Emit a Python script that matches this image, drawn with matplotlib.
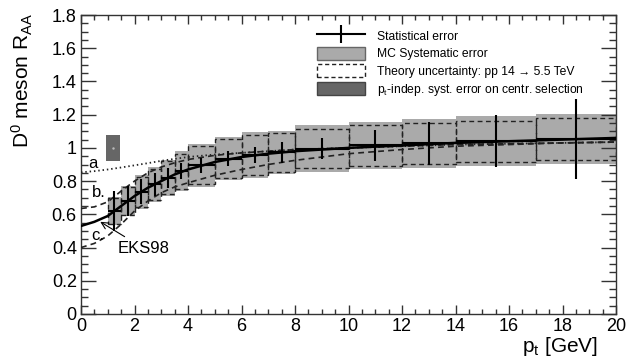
import matplotlib
matplotlib.use("Agg")
import matplotlib.pyplot as plt
from matplotlib.lines import Line2D
from matplotlib.patches import Patch
from matplotlib.ticker import MultipleLocator
import numpy as np

plt.rcParams['font.family'] = ['Liberation Sans', 'DejaVu Sans']
plt.rcParams['mathtext.fontset'] = 'custom'
plt.rcParams['mathtext.rm'] = 'Liberation Sans'
plt.rcParams['mathtext.it'] = 'Liberation Sans'

# ---- data ----
pt_lo = [1.0, 1.5, 2.0, 2.5, 3.0, 3.5, 4.0, 5.0, 6.0, 7.0, 8.0, 10.0, 12.0, 14.0, 17.0]
pt_hi = [1.5, 2.0, 2.5, 3.0, 3.5, 4.0, 5.0, 6.0, 7.0, 8.0, 10.0, 12.0, 14.0, 17.0, 20.0]
raa = [0.62, 0.68, 0.735, 0.78, 0.82, 0.86, 0.895, 0.935, 0.957, 0.974, 0.996, 1.015, 1.027, 1.04, 1.055]
stat_err = [0.12, 0.092, 0.075, 0.07, 0.06, 0.048, 0.045, 0.045, 0.05, 0.063, 0.065, 0.093, 0.13, 0.157, 0.24]
mc_syst = [0.085, 0.09, 0.10, 0.105, 0.11, 0.12, 0.128, 0.13, 0.137, 0.13, 0.14, 0.142, 0.147, 0.15, 0.15]
theo_unc = [0.08, 0.085, 0.09, 0.095, 0.10, 0.105, 0.115, 0.117, 0.12, 0.117, 0.118, 0.122, 0.122, 0.124, 0.125]

curve_pt = [0, 0.5, 1, 1.5, 2, 2.5, 3, 3.5, 4, 5, 6, 7, 8, 10, 12, 14, 16, 18, 20]
eks98 = [0.53, 0.555, 0.59, 0.65, 0.71, 0.76, 0.80, 0.84, 0.87, 0.915, 0.945, 0.965, 0.98, 1.0, 1.015, 1.03, 1.04, 1.05, 1.06]
curve_a = [0.853, 0.86, 0.87, 0.882, 0.895, 0.908, 0.922, 0.934, 0.945, 0.96, 0.97, 0.98, 0.99, 1.0, 1.01, 1.02, 1.025, 1.03, 1.035]
curve_b = [0.635, 0.645, 0.675, 0.74, 0.80, 0.85, 0.885, 0.91, 0.93, 0.955, 0.97, 0.98, 0.99, 1.0, 1.01, 1.02, 1.025, 1.03, 1.035]
curve_c = [0.40, 0.425, 0.47, 0.54, 0.62, 0.68, 0.73, 0.765, 0.79, 0.835, 0.87, 0.90, 0.925, 0.965, 0.99, 1.01, 1.02, 1.03, 1.035]

cent_x = 1.2
cent_w = 0.5
cent_val = 1.0
cent_err = 0.08

legend_labels = ["Statistical error", "MC Systematic error",
                 "Theory uncertainty: pp 14 \u2192 5.5 TeV",
                 "p$_{t}$-indep. syst. error on centr. selection"]

# ---- figure ----
fig = plt.figure(figsize=(6.28, 3.6), dpi=100)
ax = fig.add_axes([81/628, 1-314/360, 535/628, 299/360])

lo = np.array(pt_lo); hi = np.array(pt_hi)
ctr = 0.5*(lo+hi); wid = hi-lo
y = np.array(raa)
sy = np.array(mc_syst); ty = np.array(theo_unc)

ax.bar(ctr, 2*sy, bottom=y-sy, width=wid, color='#aaaaaa', edgecolor='none', zorder=1)
ax.bar(ctr, 2*ty, bottom=y-ty, width=wid, fill=False, edgecolor='#222222',
       linestyle=(0, (3.5, 2.5)), linewidth=1.0, zorder=2)

ax.plot(curve_pt, curve_a, color='#222222', lw=1.3, linestyle=(0, (0.8, 1.6)), zorder=3)
ax.plot(curve_pt, curve_b, color='#222222', lw=1.2, linestyle=(0, (3.5, 2.5)), zorder=3)
ax.plot(curve_pt, curve_c, color='#222222', lw=1.2, linestyle=(0, (3.5, 2.5)), zorder=3)
ax.plot(curve_pt, eks98, color='black', lw=1.8, zorder=4)

ax.errorbar(ctr, y, xerr=wid/2, yerr=stat_err, fmt='none', ecolor='black',
            elinewidth=1.5, capsize=0, zorder=5)

ax.bar([cent_x], [2*cent_err], bottom=[cent_val-cent_err], width=cent_w,
       color='#666666', edgecolor='none', zorder=6)
ax.plot([cent_x], [cent_val], marker='.', ms=1.5, color='#bbbbbb', zorder=7)

# annotations
ax.text(0.28, 0.905, 'a', fontsize=12, va='center', ha='left')
ax.text(0.4, 0.73, 'b.', fontsize=12, va='center', ha='left')
ax.text(0.4, 0.475, 'c.', fontsize=12, va='center', ha='left')
ax.annotate('EKS98', xy=(0.72, 0.555), xytext=(1.38, 0.395), fontsize=12,
            va='center', ha='left',
            arrowprops=dict(arrowstyle='->', color='black', lw=0.8,
                            shrinkA=2, shrinkB=0))

ax.set_xlim(0, 20)
ax.set_ylim(0, 1.8)
ax.xaxis.set_major_locator(MultipleLocator(2))
ax.xaxis.set_minor_locator(MultipleLocator(0.5))
ax.yaxis.set_major_locator(MultipleLocator(0.2))
ax.yaxis.set_minor_locator(MultipleLocator(0.05))
ax.xaxis.set_major_formatter(matplotlib.ticker.FuncFormatter(lambda v, p: f"{v:g}"))
ax.yaxis.set_major_formatter(matplotlib.ticker.FuncFormatter(lambda v, p: f"{v:g}"))
ax.tick_params(axis='x', which='major', direction='in', length=6.5, width=1, top=True,
               labelsize=13, pad=3)
ax.tick_params(axis='x', which='minor', direction='in', length=3.3, width=1, top=True)
ax.tick_params(axis='y', which='major', direction='in', length=11, width=1, right=True,
               labelsize=13, pad=3)
ax.tick_params(axis='y', which='minor', direction='in', length=5.3, width=1, right=True)
for s in ax.spines.values():
    s.set_linewidth(1.0)
    s.set_color('#333333')
ax.tick_params(which='both', color='#333333')

fig.text(22/628, 1-13/360, 'D$^{0}$ meson R$_{AA}$', rotation=90, ha='center', va='top',
         fontsize=15)
fig.text(598/628, 1-347/360, 'p$_{t}$ [GeV]', ha='right', va='center', fontsize=15)

handles = [Line2D([], [], color='black', lw=1.5, marker='|', markersize=13, markeredgewidth=1.5),
           Patch(facecolor='#aaaaaa', edgecolor='#666666', lw=1.0),
           Patch(facecolor='white', edgecolor='#222222', lw=1.0, linestyle=(0, (3, 2))),
           Patch(facecolor='#666666', edgecolor='#444444', lw=1.0)]
ax.legend(handles, legend_labels, loc='upper left', bbox_to_anchor=(0.4405, 0.9535),
          frameon=False, fontsize=8.7, borderpad=0, borderaxespad=0,
          handlelength=4.0, handleheight=1.3, handletextpad=1.0, labelspacing=0.33,
          numpoints=1)

fig.savefig('out.png', dpi=100)
